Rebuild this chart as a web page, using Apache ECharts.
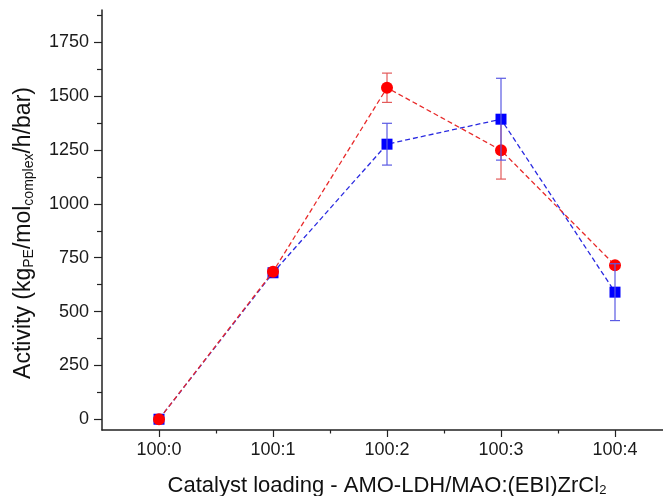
<!DOCTYPE html>
<html>
<head>
<meta charset="utf-8">
<script src="https://cdn.jsdelivr.net/npm/echarts@6/dist/echarts.min.js"></script>
<style>
html,body{margin:0;padding:0;background:#fff;}
#chart{width:663px;height:496px;}
</style>
</head>
<body>
<div id="chart"></div>
<script>
// ---- data ----
var categories = ['100:0', '100:1', '100:2', '100:3', '100:4'];
var blueValues = [0, 680, 1277, 1393, 590];
var blueErr    = [0, 0, 97, 190, 132];
var redValues  = [0, 685, 1539, 1249, 715];
var redErr     = [0, 0, 68, 134, 8];
var yMajorTicks = [0, 250, 500, 750, 1000, 1250, 1500, 1750];
var yMinorTicks = [125, 375, 625, 875, 1125, 1375, 1625, 1875];
var xMajorTicks = [0, 1, 2, 3, 4];
var xMinorTicks = [0.5, 1.5, 2.5, 3.5, 4.5];

function pts(vals) { return vals.map(function (v, i) { return [i, v]; }); }
function errs(vals, e) {
  return vals.map(function (v, i) { return [i, v - e[i], v + e[i]]; }).filter(function (d, i) { return e[i] > 0; });
}
function errRender(color) {
  return function (params, api) {
    var x = api.value(0);
    var lo = api.coord([x, api.value(1)]);
    var hi = api.coord([x, api.value(2)]);
    var w = 5;
    var st = { stroke: color, lineWidth: 1.2 };
    return {
      type: 'group',
      children: [
        { type: 'line', shape: { x1: lo[0], y1: lo[1], x2: hi[0], y2: hi[1] }, style: st },
        { type: 'line', shape: { x1: lo[0] - w, y1: lo[1], x2: lo[0] + w, y2: lo[1] }, style: st },
        { type: 'line', shape: { x1: hi[0] - w, y1: hi[1], x2: hi[0] + w, y2: hi[1] }, style: st }
      ]
    };
  };
}

var axisColor = '#222';
var font = 'Liberation Sans, Arial, sans-serif';

var chart = echarts.init(document.getElementById('chart'), null, { renderer: 'canvas' });
chart.setOption({
  animation: false,
  backgroundColor: '#fff',
  grid: { left: 102, right: -9, top: 10, bottom: 66, outerBoundsMode: 'none', containLabel: false },
  xAxis: [
    {
      type: 'value', min: -0.5, max: 4.5, position: 'bottom',
      axisLine: { show: true, onZero: false, lineStyle: { color: axisColor, width: 1.5 } },
      axisTick: { show: true, length: 7, customValues: xMajorTicks, lineStyle: { color: axisColor, width: 1.2 } },
      axisLabel: {
        show: true, customValues: xMajorTicks, margin: 11,
        fontSize: 18, color: '#1a1a1a', fontFamily: font,
        formatter: function (v) { return categories[Math.round(v)]; }
      },
      splitLine: { show: false },
      name: '{m|Catalyst loading - AMO-LDH/MAO:(EBI)ZrCl}{s|2}',
      nameLocation: 'middle', nameGap: 44,
      nameTextStyle: {
        rich: {
          m: { fontSize: 22, color: '#111', fontFamily: font },
          s: { fontSize: 13, color: '#111', fontFamily: font, padding: [10, 0, 0, 0] }
        }
      }
    },
    {
      type: 'value', min: -0.5, max: 4.5, position: 'bottom',
      axisLine: { show: false, onZero: false },
      axisTick: { show: true, length: 3.5, customValues: xMinorTicks, lineStyle: { color: axisColor, width: 1.2 } },
      axisLabel: { show: false },
      splitLine: { show: false }
    }
  ],
  yAxis: [
    {
      type: 'value', min: -50, max: 1900,
      axisLine: { show: true, onZero: false, lineStyle: { color: axisColor, width: 1.5 } },
      axisTick: { show: true, length: 8, customValues: yMajorTicks, lineStyle: { color: axisColor, width: 1.2 } },
      axisLabel: {
        show: true, customValues: yMajorTicks, margin: 13, fontSize: 18, color: '#1a1a1a', fontFamily: font,
        formatter: function (v) { return String(v); }
      },
      splitLine: { show: false },
      name: '{m|Activity (kg}{s|PE}{m|/mol}{s|complex}{m|/h/bar)}',
      nameLocation: 'middle', nameGap: 66, nameRotate: 90,
      nameTextStyle: {
        padding: [0, 26, 0, 0],
        rich: {
          m: { fontSize: 23, color: '#111', fontFamily: font },
          s: { fontSize: 14, color: '#111', fontFamily: font, padding: [10, 0, 0, 0] }
        }
      }
    },
    {
      type: 'value', min: -50, max: 1900, position: 'left',
      axisLine: { show: false, onZero: false },
      axisTick: { show: true, length: 5, customValues: yMinorTicks, lineStyle: { color: axisColor, width: 1.2 } },
      axisLabel: { show: false },
      splitLine: { show: false }
    }
  ],
  series: [
    {
      type: 'custom', name: 'redErr', xAxisIndex: 0, yAxisIndex: 0, z: 1,
      renderItem: errRender('#e35a5a'), data: errs(redValues, redErr)
    },
    {
      type: 'line', name: 'blue', xAxisIndex: 0, yAxisIndex: 0, z: 2,
      data: pts(blueValues), symbol: 'rect', symbolSize: 11,
      itemStyle: { color: '#0000ff' },
      lineStyle: { color: '#2a2ae0', width: 1.3, type: [5, 3] }
    },
    {
      type: 'line', name: 'red', xAxisIndex: 0, yAxisIndex: 0, z: 3,
      data: pts(redValues), symbol: 'circle', symbolSize: 12,
      itemStyle: { color: '#ff0000' },
      lineStyle: { color: '#e82a2a', width: 1.3, type: [5, 3] }
    },
    {
      type: 'custom', name: 'blueErr', xAxisIndex: 0, yAxisIndex: 0, z: 4,
      renderItem: errRender('#5a5ae3'), data: errs(blueValues, blueErr)
    }
  ]
});
</script>
</body>
</html>
